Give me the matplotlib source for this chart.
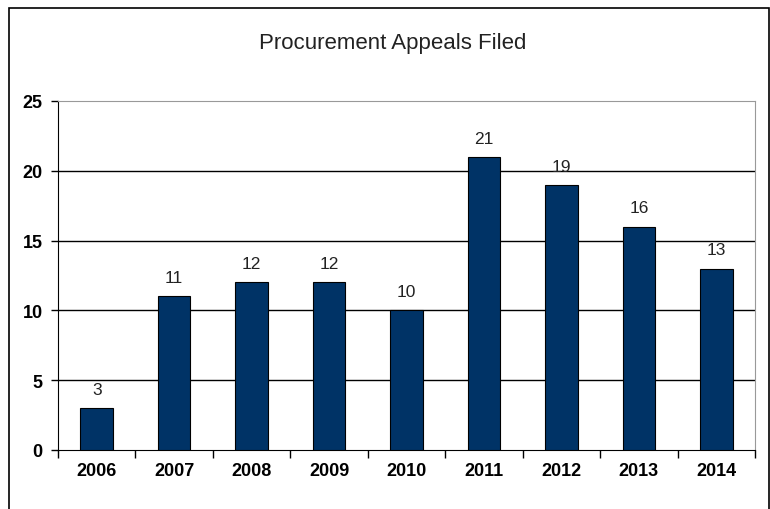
import matplotlib.pyplot as plt
from matplotlib.patches import Rectangle

years = ['2006', '2007', '2008', '2009', '2010', '2011', '2012', '2013', '2014']
appeals = [3, 11, 12, 12, 10, 21, 19, 16, 13]

plt.rcParams['font.family'] = ['Liberation Sans Narrow', 'Liberation Sans', 'DejaVu Sans']

fig = plt.figure(figsize=(7.7, 5.1), dpi=100)
fig.patches.append(Rectangle((9 / 770, -0.1), 760 / 770, 1.1 - 9 / 510, transform=fig.transFigure,
                             fill=False, edgecolor='black', linewidth=1.2))
fig.text(0.51, 1 - 43 / 510, 'Procurement Appeals Filed', ha='center', va='center', fontsize=16, color='#222222')

ax = fig.add_axes([58 / 770, 1 - 451 / 510, 697 / 770, 349 / 510])
x = range(len(years))
bars = ax.bar(x, appeals, width=0.42, color='#003366', edgecolor='black', linewidth=0.8, zorder=3)
for i, v in enumerate(appeals):
    ax.text(i, v + 0.8, str(v), ha='center', va='bottom', fontsize=12.5, color='#222222')

ax.set_xlim(-0.5, len(years) - 0.5)
ax.set_ylim(0, 25)
ax.set_yticks([0, 5, 10, 15, 20, 25])
ax.set_xticks([i + 0.5 for i in range(-1, len(years))], minor=False)
ax.set_xticklabels([])
ax.set_xticks(list(x), minor=True)
ax.set_xticklabels(years, minor=True, fontsize=13, fontweight='bold')
ax.tick_params(axis='x', which='major', direction='out', length=6, width=1)
ax.tick_params(axis='x', which='minor', length=0, pad=9)
ax.tick_params(axis='y', direction='out', length=5, width=1, labelsize=13, pad=6)
for lbl in ax.get_yticklabels():
    lbl.set_fontweight('bold')

for y in [5, 10, 15, 20]:
    ax.axhline(y, color='black', linewidth=1, zorder=1)
ax.spines['top'].set_color('#999999')
ax.spines['right'].set_color('#999999')
ax.spines['left'].set_color('black')
ax.spines['bottom'].set_color('black')

fig.savefig('out.png', dpi=100)
